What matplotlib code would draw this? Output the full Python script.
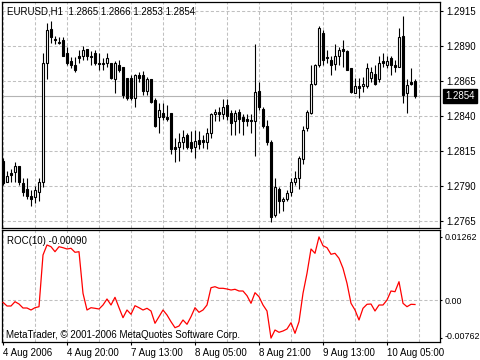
import matplotlib
matplotlib.use('Agg')
import matplotlib.pyplot as plt
from matplotlib.patches import Rectangle
from matplotlib import transforms

plt.rcParams['font.family'] = ['Liberation Sans', 'DejaVu Sans']

symbol = 'EURUSD,H1'
opens = [1.2808, 1.2793, 1.2799, 1.2800, 1.2804, 1.2792, 1.2788, 1.2783, 1.2782, 1.2786,
         1.2793, 1.2878, 1.2902, 1.2895, 1.2892, 1.2894, 1.2885, 1.2879, 1.2876, 1.2883,
         1.2883, 1.2888, 1.2883, 1.2885, 1.2878, 1.2877, 1.2878, 1.2878, 1.2866, 1.2876,
         1.2875, 1.2867, 1.2867, 1.2853, 1.2869, 1.2869, 1.2858, 1.2866, 1.2851, 1.2839,
         1.2842, 1.2839, 1.2842, 1.2818, 1.2818, 1.2821, 1.2826, 1.2821, 1.2818, 1.2823,
         1.2823, 1.2821, 1.2828, 1.2841, 1.2843, 1.2841, 1.2848, 1.2842, 1.2836, 1.2843,
         1.2839, 1.2838, 1.2837, 1.2836, 1.2858, 1.2845, 1.2833, 1.2821, 1.2769, 1.2788,
         1.2779, 1.2781, 1.2786, 1.2793, 1.2796, 1.2809, 1.2831, 1.2842, 1.2863, 1.2876,
         1.2899, 1.2882, 1.2880, 1.2877, 1.2883, 1.2888, 1.2886, 1.2874, 1.2856, 1.2861,
         1.2861, 1.2861, 1.2867, 1.2870, 1.2866, 1.2879, 1.2876, 1.2881, 1.2876, 1.2875,
         1.2897, 1.2856, 1.2864, 1.2865]
highs = [1.2810, 1.2801, 1.2802, 1.2807, 1.2804, 1.2796, 1.2796, 1.2787, 1.2790, 1.2796,
         1.2885, 1.2906, 1.2908, 1.2897, 1.2896, 1.2896, 1.2889, 1.2882, 1.2882, 1.2887,
         1.2890, 1.2888, 1.2886, 1.2887, 1.2885, 1.2881, 1.2885, 1.2878, 1.2879, 1.2880,
         1.2875, 1.2867, 1.2869, 1.2870, 1.2871, 1.2872, 1.2868, 1.2866, 1.2853, 1.2849,
         1.2849, 1.2848, 1.2842, 1.2824, 1.2828, 1.2830, 1.2828, 1.2829, 1.2830, 1.2829,
         1.2826, 1.2831, 1.2842, 1.2845, 1.2846, 1.2852, 1.2852, 1.2844, 1.2844, 1.2845,
         1.2841, 1.2841, 1.2841, 1.2891, 1.2864, 1.2846, 1.2837, 1.2823, 1.2796, 1.2789,
         1.2782, 1.2787, 1.2796, 1.2801, 1.2811, 1.2833, 1.2844, 1.2876, 1.2877, 1.2904,
         1.2901, 1.2887, 1.2883, 1.2891, 1.2889, 1.2894, 1.2887, 1.2874, 1.2867, 1.2867,
         1.2868, 1.2878, 1.2875, 1.2876, 1.2883, 1.2885, 1.2883, 1.2883, 1.2880, 1.2903,
         1.2911, 1.2866, 1.2874, 1.2866]
lows = [1.2791, 1.2793, 1.2793, 1.2793, 1.2791, 1.2783, 1.2781, 1.2776, 1.2778, 1.2779,
        1.2789, 1.2866, 1.2892, 1.2891, 1.2891, 1.2883, 1.2876, 1.2874, 1.2871, 1.2878,
        1.2880, 1.2880, 1.2876, 1.2876, 1.2873, 1.2873, 1.2875, 1.2866, 1.2856, 1.2871,
        1.2853, 1.2851, 1.2851, 1.2846, 1.2864, 1.2855, 1.2855, 1.2849, 1.2832, 1.2828,
        1.2837, 1.2836, 1.2813, 1.2807, 1.2808, 1.2816, 1.2816, 1.2814, 1.2810, 1.2816,
        1.2817, 1.2816, 1.2824, 1.2836, 1.2836, 1.2838, 1.2837, 1.2826, 1.2826, 1.2828,
        1.2826, 1.2833, 1.2828, 1.2811, 1.2844, 1.2831, 1.2819, 1.2764, 1.2768, 1.2771,
        1.2772, 1.2779, 1.2783, 1.2791, 1.2788, 1.2806, 1.2829, 1.2841, 1.2862, 1.2875,
        1.2876, 1.2878, 1.2869, 1.2873, 1.2876, 1.2875, 1.2873, 1.2856, 1.2856, 1.2853,
        1.2857, 1.2860, 1.2864, 1.2862, 1.2864, 1.2875, 1.2874, 1.2869, 1.2871, 1.2875,
        1.2849, 1.2842, 1.2862, 1.2853]
closes = [1.2792, 1.2797, 1.2798, 1.2804, 1.2793, 1.2786, 1.2783, 1.2781, 1.2787, 1.2793,
          1.2878, 1.2901, 1.2896, 1.2894, 1.2893, 1.2883, 1.2878, 1.2876, 1.2873, 1.2881,
          1.2887, 1.2883, 1.2882, 1.2878, 1.2877, 1.2878, 1.2881, 1.2867, 1.2878, 1.2873,
          1.2855, 1.2853, 1.2853, 1.2869, 1.2867, 1.2858, 1.2866, 1.2850, 1.2833, 1.2844,
          1.2839, 1.2838, 1.2816, 1.2816, 1.2821, 1.2825, 1.2818, 1.2817, 1.2822, 1.2820,
          1.2821, 1.2828, 1.2841, 1.2843, 1.2841, 1.2846, 1.2840, 1.2835, 1.2842, 1.2838,
          1.2836, 1.2836, 1.2836, 1.2857, 1.2846, 1.2833, 1.2821, 1.2768, 1.2789, 1.2779,
          1.2781, 1.2785, 1.2793, 1.2796, 1.2810, 1.2830, 1.2843, 1.2863, 1.2876, 1.2903,
          1.2880, 1.2881, 1.2876, 1.2883, 1.2887, 1.2886, 1.2873, 1.2857, 1.2861, 1.2860,
          1.2863, 1.2874, 1.2871, 1.2863, 1.2878, 1.2878, 1.2879, 1.2876, 1.2875, 1.2896,
          1.2855, 1.2862, 1.2863, 1.2854]
roc = [-0.00046, -0.00120, -0.00120, -0.00034, -0.00080, -0.00160, -0.00160, -0.00200, -0.00154, -0.00134,
       0.00900, 0.01100, 0.01066, 0.00966, 0.01066, 0.01046, 0.01020, 0.01034, 0.00954, 0.00966,
       0.00134, -0.00200, -0.00154, -0.00166, -0.00180, -0.00100, 0.00020, -0.00100, 0.00054, -0.00154,
       -0.00354, -0.00200, -0.00286, -0.00114, -0.00154, -0.00200, -0.00166, -0.00220, -0.00466, -0.00334,
       -0.00200, -0.00300, -0.00434, -0.00554, -0.00520, -0.00400, -0.00486, -0.00334, -0.00154, -0.00246,
       -0.00200, -0.00100, 0.00246, 0.00266, 0.00234, 0.00234, 0.00220, 0.00200, 0.00214, 0.00180,
       0.00180, 0.00086, -0.00066, 0.00146, 0.00066, -0.00100, -0.00220, -0.00762, -0.00600, -0.00646,
       -0.00620, -0.00580, -0.00454, -0.00666, -0.00434, 0.00134, 0.00534, 0.01020, 0.00934, 0.01262,
       0.01086, 0.01046, 0.00914, 0.00934, 0.00834, 0.00634, 0.00334, -0.00066, -0.00200, -0.00400,
       -0.00166, -0.00086, -0.00080, -0.00220, -0.00100, -0.00100, 0.00000, 0.00180, 0.00166, 0.00366,
       -0.00066, -0.00134, -0.00086, -0.00090]
date_labels = ['4 Aug 2006', '4 Aug 20:00', '7 Aug 13:00', '8 Aug 05:00',
               '8 Aug 21:00', '9 Aug 13:00', '10 Aug 05:00']
date_label_bars = [0, 16, 32, 48, 64, 80, 96]
price_ticks = [1.2915, 1.2890, 1.2865, 1.2840, 1.2815, 1.2790, 1.2765]
roc_ticks = [0.01262, 0.0, -0.00762]
roc_tick_labels = ['0.01262', '0.00', '-0.00762']

W, Hh = 480, 360
fig = plt.figure(figsize=(4.8, 3.6), dpi=100)
ax = fig.add_axes([2 / W, 1 - 228 / Hh, 438 / W, 226 / Hh])
ax2 = fig.add_axes([2 / W, 1 - 342 / Hh, 438 / W, 112 / Hh])

n = len(closes)
grid_kw = dict(color='#c0c0c0', lw=0.75, ls=(0, (3, 2)), zorder=0)

for a in (ax, ax2):
    a.set_xlim(-0.25, 109.25)
    for s in a.spines.values():
        s.set_color('black')
        s.set_linewidth(0.9)
    for gx in range(0, 110, 8):
        a.axvline(gx, **grid_kw)

# price panel
ax.set_ylim(1.27600, 1.29212)
for p in price_ticks:
    ax.axhline(p, **grid_kw)
last = closes[-1]
ax.axhline(last, color='#b4b4b4', lw=0.8, zorder=0.5)

bw = 0.5
for i in range(n):
    o, h, l, c = opens[i], highs[i], lows[i], closes[i]
    ax.vlines(i, l, h, color='black', lw=0.8, zorder=2)
    bottom = min(o, c)
    height = max(abs(c - o), 0.00003)
    fc = 'white' if c > o else 'black'
    ax.add_patch(Rectangle((i - bw / 2, bottom), bw, height, facecolor=fc,
                           edgecolor='black', lw=0.8, zorder=3))

ax.yaxis.tick_right()
ax.set_yticks(price_ticks)
ax.set_yticklabels([f'{p:.4f}' for p in price_ticks])
ax.tick_params(axis='y', length=2, width=0.8, pad=2.5, labelsize=7, colors='black')
ax.set_xticks([])

trans = transforms.blended_transform_factory(ax.transAxes, ax.transData)
ax.text(1 + 5 / 438, last, f'{last:.4f}', transform=trans, color='white',
        fontsize=7, va='center', ha='left', clip_on=False,
        bbox=dict(boxstyle='square,pad=0.22', facecolor='black', edgecolor='black'))

fig.text(7 / W, 1 - 11 / Hh,
         f'{symbol}  {opens[-1]:.4f} {highs[-1]:.4f} {lows[-1]:.4f} {closes[-1]:.4f}',
         fontsize=7, va='center', ha='left')

# ROC panel
ax2.set_ylim(-0.0084, 0.0140)
ax2.axhline(0, **grid_kw)
ax2.plot(range(n), roc, color='red', lw=0.9, zorder=3)
ax2.yaxis.tick_right()
ax2.set_yticks(roc_ticks)
ax2.set_yticklabels(roc_tick_labels)
ax2.tick_params(axis='y', length=1.5, width=0.8, pad=2.0, labelsize=6.4)
for lbl in ax2.get_yticklabels():
    if lbl.get_text().startswith('-'):
        lbl.set_transform(lbl.get_transform() +
                          transforms.ScaledTranslation(0, 3 / 100, fig.dpi_scale_trans))
ax2.set_xticks(date_label_bars)
ax2.set_xticklabels(date_labels, ha='left')
ax2.tick_params(axis='x', length=2.5, width=0.8, pad=1.5, labelsize=7)

fig.text(7 / W, 1 - 240.7 / Hh, f'ROC(10) {roc[-1]:.5f}', fontsize=7, va='center', ha='left')
fig.text(6 / W, 1 - 334.5 / Hh, 'MetaTrader, © 2001-2006 MetaQuotes Software Corp.',
         fontsize=7, va='center', ha='left')

fig.savefig('out.png', dpi=100, facecolor='white')
